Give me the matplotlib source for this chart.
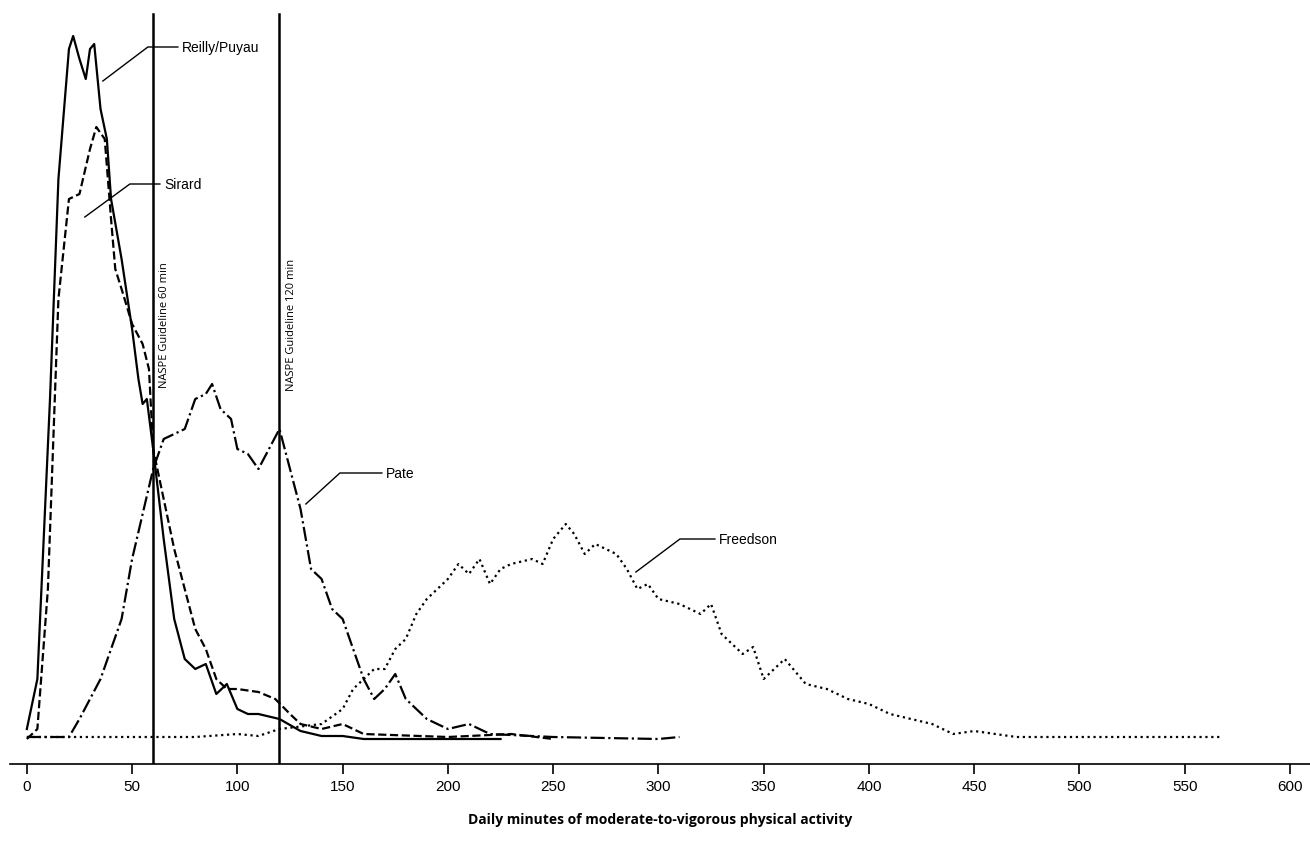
import numpy as np
import matplotlib.pyplot as plt

# curve heights (arbitrary density units)
reilly_x = [0,5,8,11,15,20,22,25,28,30,32,35,38,40,45,50,53,55,57,60,65,70,75,80,85,90,95,100,105,110,120,130,140,150,160,180,200,225]
reilly_y = [10,60,200,340,560,690,703,680,660,690,695,630,600,540,480,410,360,335,340,290,200,120,80,70,75,45,55,30,25,25,20,8,3,3,0,0,0,0]

sirard_x = [0,5,10,15,20,25,30,33,37,40,42,45,50,55,58,60,65,70,75,80,85,90,95,100,110,118,125,130,140,150,160,200,230,250]
sirard_y = [0,10,150,440,540,545,590,612,600,520,470,450,415,395,370,290,240,190,150,110,90,60,50,50,47,40,25,15,10,15,5,2,5,0]

pate_x = [0,20,25,35,40,45,50,55,60,65,70,75,80,85,88,92,97,100,105,110,115,120,125,130,135,140,145,150,155,160,165,170,175,180,190,200,210,220,250,300,310]
pate_y = [2,2,20,60,90,120,180,225,270,300,305,310,340,345,355,330,320,290,285,270,290,310,270,230,170,160,130,120,90,60,40,50,65,40,20,10,15,5,2,0,2]

freed_x = [0,50,80,100,110,120,140,150,155,160,165,170,175,180,185,190,195,200,205,210,215,220,225,230,240,245,250,256,260,265,270,280,285,290,295,300,310,320,325,330,340,345,350,355,360,370,380,390,400,410,420,430,440,450,470,500,567]
freed_y = [2,2,2,5,3,10,15,30,50,60,70,70,90,100,125,140,150,160,175,165,180,155,170,175,180,175,200,215,205,185,195,185,170,150,155,140,135,125,135,105,85,92,60,70,80,55,50,40,35,25,20,15,5,8,2,2,2]

tick_vals = list(range(0, 601, 50))

fig = plt.figure(figsize=(13.1, 8.45), dpi=100)
ax = fig.add_axes([10/1310, 1 - 765/845, 1 - 10/1310, 765/845])
X0, Y0 = -8, -25
ax.set_xlim(X0, 609.5)
ax.set_ylim(Y0, 740)

def px(xp, yp):
    return (xp - 27) / 2.105, 740 - yp

kw = dict(color='black', lw=1.6)
ax.plot(reilly_x, reilly_y, ls='-', **kw)
ax.plot(sirard_x, sirard_y, ls='--', **kw)
ax.plot(pate_x, pate_y, ls='-.', **kw)
ax.plot(freed_x, freed_y, ls=':', **kw)

for v, lab in [(60, 'NASPE Guideline 60 min'), (120, 'NASPE Guideline 120 min')]:
    ax.plot([v, v], [Y0, 725], color='black', lw=1.8)
    ax.text(v + 3, 415, lab, rotation=90, va='center', ha='left',
            fontsize=8, family='Open Sans')

labels = [('Reilly/Puyau', (103, 82), (148, 48), (178, 48)),
          ('Sirard', (85, 218), (130, 185), (160, 185)),
          ('Pate', (306, 505), (340, 474), (382, 474)),
          ('Freedson', (636, 573), (680, 540), (715, 540))]
for name, a, b, c in labels:
    pts = [px(*a), px(*b), px(*c)]
    ax.plot([p[0] for p in pts], [p[1] for p in pts], color='black', lw=1)
    ax.text(pts[2][0] + 2, pts[2][1], name, va='center', ha='left',
            fontsize=10, family='Liberation Sans')

for s in ['top', 'right', 'left']:
    ax.spines[s].set_visible(False)
ax.spines['bottom'].set_linewidth(1.2)
ax.set_yticks([])
ax.set_xticks(tick_vals)
ax.set_xticklabels([str(t) for t in tick_vals], fontsize=11, family='Liberation Sans')
ax.tick_params(axis='x', length=7, width=1.2)
ax.set_xlabel('Daily minutes of moderate-to-vigorous physical activity',
              fontsize=10, fontweight='bold', family='Open Sans', labelpad=14)

fig.savefig('out.png', dpi=100)
